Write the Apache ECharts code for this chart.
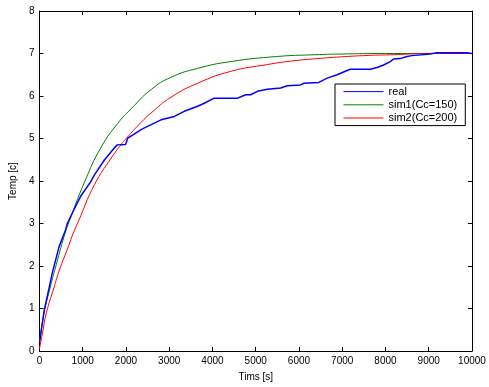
<!DOCTYPE html>
<html>
<head>
<meta charset="utf-8">
<script src="https://cdn.jsdelivr.net/npm/echarts@6/dist/echarts.min.js"></script>
<style>
html,body{margin:0;padding:0;background:#fff;}
#c{width:489px;height:387px;}
</style>
</head>
<body>
<div id="c"></div>
<script>
var xTicks = [0,1000,2000,3000,4000,5000,6000,7000,8000,9000,10000];
var yTicks = [0,1,2,3,4,5,6,7,8];

var realT = [0,31,108,184,300,453,607,645,799,952,1182,1275,1505,1735,1800,1990,2043,2350,2427,2811,3118,3348,3656,3809,4040,4578,4769,4884,5038,5269,5576,5730,6036,6113,6459,6651,6882,7112,7189,7650,7803,7956,8110,8187,8341,8495,8610,9032,9186,9877,10000];
var realV = [0.2,0.4,0.95,1.3,1.85,2.45,2.86,3.0,3.33,3.64,3.98,4.15,4.5,4.78,4.85,4.86,5.01,5.21,5.25,5.44,5.52,5.64,5.76,5.83,5.95,5.95,6.03,6.03,6.11,6.16,6.19,6.24,6.26,6.30,6.32,6.42,6.50,6.60,6.63,6.63,6.67,6.73,6.81,6.87,6.88,6.93,6.95,6.99,7.02,7.02,7.0];

var sim1T = [0,108,261,353,584,676,1044,1428,1813,2120,2580,3041,3656,4424,5499,6343,7112,8000,10000];
var sim1V = [0.2,0.9,1.55,1.9,2.75,3.02,3.98,4.8,5.36,5.7,6.15,6.44,6.65,6.81,6.93,6.97,6.99,7.0,7.0];

var sim2T = [0,69,161,338,453,684,776,891,1275,1659,1889,2005,2350,2580,3041,3656,4424,5269,5806,6421,6958,7496,8110,9108,10000];
var sim2V = [0.05,0.42,0.9,1.5,1.88,2.5,2.76,3.03,3.92,4.54,4.86,5.0,5.38,5.6,5.97,6.30,6.58,6.74,6.82,6.88,6.92,6.95,6.97,7.0,7.0];

function pairs(t, v){ return t.map(function(x,i){ return [x, v[i]]; }); }

var font = 'Liberation Sans, Arial, sans-serif';
var chart = echarts.init(document.getElementById('c'), null, {renderer:'canvas'});

function axisCommon(showLabel){
  return {
    axisLine:{show:true, onZero:false, lineStyle:{color:'#000', width:1}},
    axisTick:{show:true, inside:true, length:4, lineStyle:{color:'#000'}},
    axisLabel:{show:showLabel, color:'#000', fontFamily:font, fontSize:10, margin:5,
      formatter:function(v){ return String(v); }},
    splitLine:{show:false}
  };
}

var option = {
  backgroundColor:'#fff',
  animation:false,
  grid:{left:38, top:11, right:17, bottom:35, containLabel:false},
  xAxis:[
    Object.assign({type:'value', min:xTicks[0], max:xTicks[xTicks.length-1], interval:1000, position:'bottom',
      name:'Tims [s]', nameLocation:'middle', nameGap:21,
      nameTextStyle:{color:'#000', fontFamily:font, fontSize:10}}, axisCommon(true)),
    Object.assign({type:'value', min:xTicks[0], max:xTicks[xTicks.length-1], interval:1000, position:'top'}, axisCommon(false))
  ],
  yAxis:[
    Object.assign({type:'value', min:yTicks[0], max:yTicks[yTicks.length-1], interval:1, position:'left',
      name:'Temp [c]', nameLocation:'middle', nameGap:18,
      nameTextStyle:{color:'#000', fontFamily:font, fontSize:10}}, axisCommon(true)),
    Object.assign({type:'value', min:yTicks[0], max:yTicks[yTicks.length-1], interval:1, position:'right'}, axisCommon(false))
  ],
  legend:{
    show:true, orient:'vertical', left:335, top:84,
    padding:[2,8,2,8], itemGap:2, itemWidth:40, itemHeight:14,
    backgroundColor:'#fff', borderColor:'#000', borderWidth:1, borderRadius:0,
    itemStyle:{opacity:0},
    lineStyle:{width:1},
    textStyle:{color:'#000', fontFamily:font, fontSize:11},
    data:['real','sim1(Cc=150)','sim2(Cc=200)']
  },
  series:[
    {name:'real', type:'line', data:pairs(realT, realV), symbol:'none', smooth:false,
      lineStyle:{color:'#0000ff', width:1.5}, itemStyle:{color:'#0000ff'}, z:3},
    {name:'sim1(Cc=150)', type:'line', data:pairs(sim1T, sim1V), symbol:'none', smooth:0.5,
      lineStyle:{color:'#008000', width:1}, itemStyle:{color:'#008000'}, z:2},
    {name:'sim2(Cc=200)', type:'line', data:pairs(sim2T, sim2V), symbol:'none', smooth:0.5,
      lineStyle:{color:'#ff0000', width:1}, itemStyle:{color:'#ff0000'}, z:2}
  ]
};
chart.setOption(option);
</script>
</body>
</html>
